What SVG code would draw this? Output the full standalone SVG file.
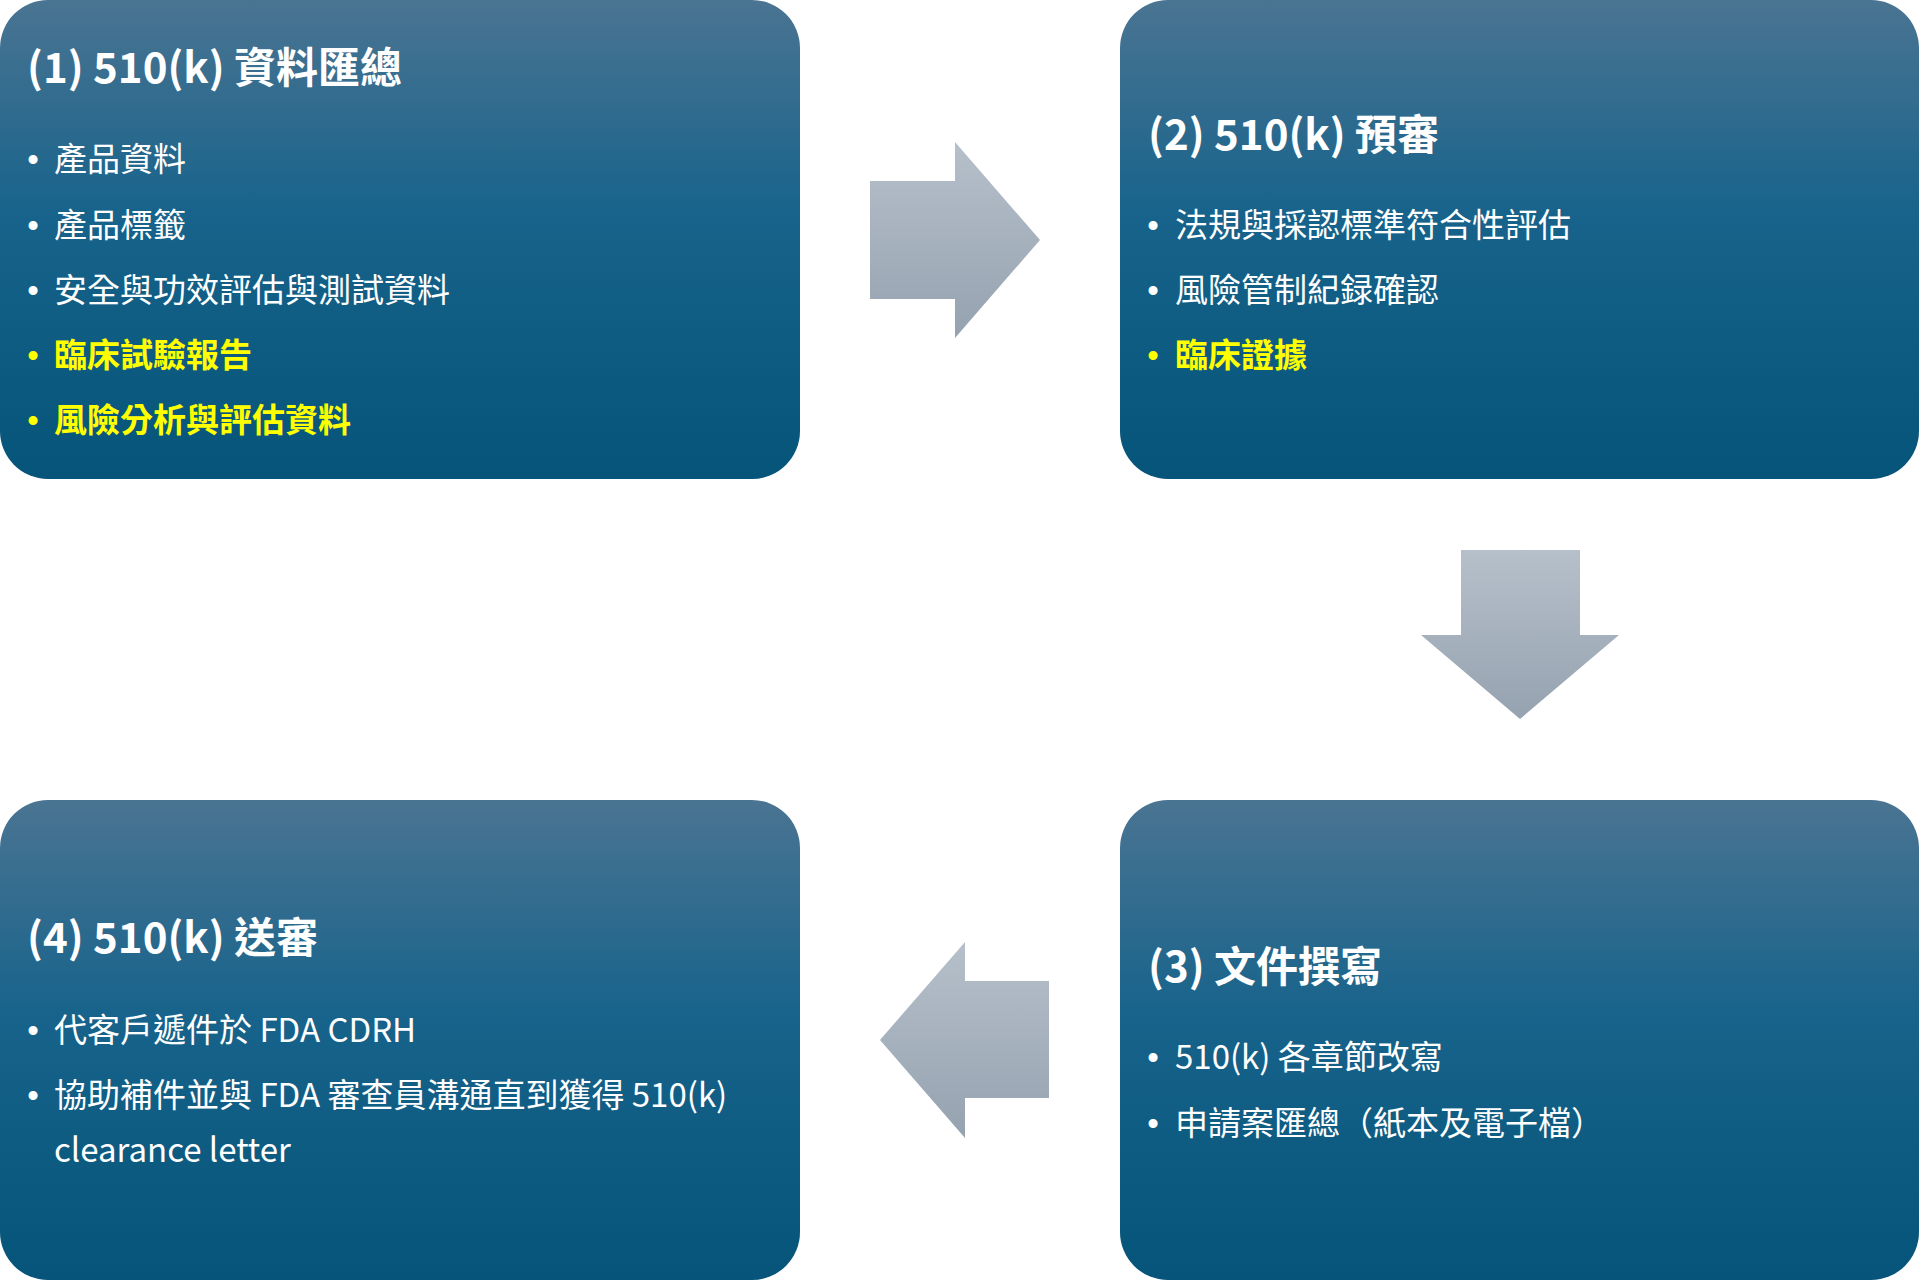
<svg xmlns="http://www.w3.org/2000/svg" width="1920" height="1280" viewBox="0 0 1920 1280">
<defs>
<linearGradient id="boxGrad" x1="0" y1="0" x2="0" y2="1">
<stop offset="0" stop-color="#4a7492"/>
<stop offset="0.45" stop-color="#17638b"/>
<stop offset="1" stop-color="#06547a"/>
</linearGradient>
<linearGradient id="arrGrad" x1="0" y1="0" x2="0" y2="1">
<stop offset="0" stop-color="#b6c0cb"/>
<stop offset="1" stop-color="#95a2af"/>
</linearGradient>
<style>
.box{fill:url(#boxGrad);}
.arrow{fill:url(#arrGrad);}
text{font-family:"Noto Sans CJK TC","Noto Sans CJK SC","Noto Sans",sans-serif;}
.title{font-size:42px;font-weight:700;fill:#ffffff;}
.item{font-size:33px;font-weight:400;fill:#ffffff;}
.hi{font-size:33px;font-weight:700;fill:#ffff00;}
text.dot{font-family:"Liberation Sans",Arial,sans-serif;font-size:33px;fill:#ffffff;text-anchor:middle;}
text.doty{font-family:"Liberation Sans",Arial,sans-serif;font-size:33px;fill:#ffff00;text-anchor:middle;}
</style>
</defs>
<rect width="1920" height="1280" fill="#ffffff"/>

<g id="node1">
<rect class="box" x="0" y="0" width="800" height="479" rx="48" ry="48"/>
<text class="title" x="27" y="83">(1) 510(k) 資料匯總</text>
<text class="dot" x="33" y="171">•</text><text class="item" x="54" y="171">產品資料</text>
<text class="dot" x="33" y="237">•</text><text class="item" x="54" y="237">產品標籤</text>
<text class="dot" x="33" y="302">•</text><text class="item" x="54" y="302">安全與功效評估與測試資料</text>
<text class="doty" x="33" y="367">•</text><text class="hi" x="54" y="367">臨床試驗報告</text>
<text class="doty" x="33" y="432">•</text><text class="hi" x="54" y="432">風險分析與評估資料</text>
</g>

<g id="node2">
<rect class="box" x="1120" y="0" width="799" height="479" rx="48" ry="48"/>
<text class="title" x="1148" y="150">(2) 510(k) 預審</text>
<text class="dot" x="1153" y="237">•</text><text class="item" x="1175" y="237">法規與採認標準符合性評估</text>
<text class="dot" x="1153" y="302">•</text><text class="item" x="1175" y="302">風險管制紀録確認</text>
<text class="doty" x="1153" y="367">•</text><text class="hi" x="1175" y="367">臨床證據</text>
</g>

<g id="node3">
<rect class="box" x="1120" y="800" width="799" height="480" rx="48" ry="48"/>
<text class="title" x="1148" y="982">(3) 文件撰寫</text>
<text class="dot" x="1153" y="1069">•</text><text class="item" x="1175" y="1069">510(k) 各章節改寫</text>
<text class="dot" x="1153" y="1135">•</text><text class="item" x="1175" y="1135">申請案匯總（紙本及電子檔）</text>
</g>

<g id="node4">
<rect class="box" x="0" y="800" width="800" height="480" rx="48" ry="48"/>
<text class="title" x="27" y="953">(4) 510(k) 送審</text>
<text class="dot" x="33" y="1042">•</text><text class="item" x="54" y="1042">代客戶遞件於 FDA CDRH</text>
<text class="dot" x="33" y="1107">•</text><text class="item" x="54" y="1107">協助補件並與 FDA 審查員溝通直到獲得 510(k)</text>
<text class="item" x="54" y="1162">clearance letter</text>
</g>

<g id="connectors">
<polygon class="arrow" points="870,181 955,181 955,142 1040,240 955,338 955,299 870,299"/>
<polygon class="arrow" points="1461,550 1580,550 1580,635 1619,635 1520,719 1421,635 1461,635"/>
<polygon class="arrow" points="1049,981 965,981 965,942 880,1040 965,1138 965,1098 1049,1098"/>
</g>
</svg>
